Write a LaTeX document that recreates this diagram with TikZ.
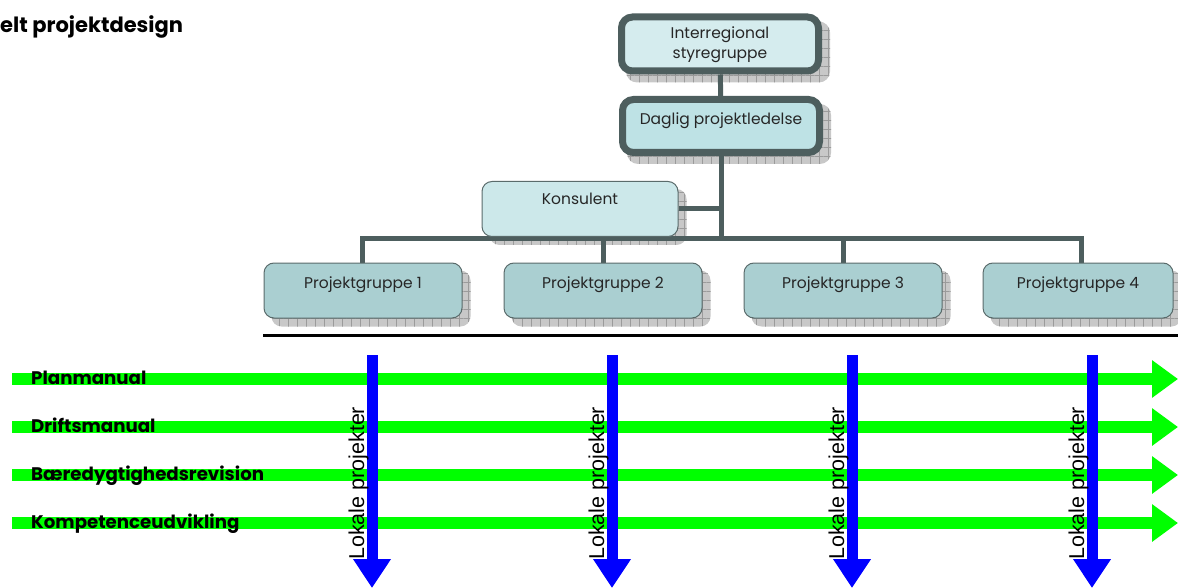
\documentclass[tikz,border=0pt]{standalone}
\usepackage{fontspec}
\newfontfamily\gothic{Poppins}
\newfontfamily\arialf{Liberation Sans}
\usetikzlibrary{arrows.meta,patterns.meta}
\pgfdeclarelayer{shadowlayer}
\pgfdeclarelayer{linelayer}
\pgfsetlayers{shadowlayer,linelayer,main}
\definecolor{linegray}{RGB}{77,94,94}
\definecolor{thingray}{RGB}{90,107,107}
\definecolor{topfill}{RGB}{213,236,238}
\definecolor{dpfill}{RGB}{190,226,229}
\definecolor{ksfill}{RGB}{204,232,234}
\definecolor{pgfill}{RGB}{170,207,209}
\definecolor{shadowfill}{RGB}{200,200,200}
\definecolor{shadowgrid}{RGB}{155,155,155}
\definecolor{arrowgreen}{RGB}{0,255,0}
\definecolor{arrowblue}{RGB}{0,0,255}
\tikzset{
  thickbox/.style={draw=linegray,line width=7pt,rounded corners=11pt,minimum width=197pt,minimum height=54pt,inner sep=0pt},
  thinbox/.style={draw=thingray,line width=1pt,rounded corners=10pt,minimum height=55pt,inner sep=0pt},
  boxtext/.style={font=\gothic\fontsize{15.5}{20}\selectfont,inner sep=0pt,anchor=base,align=center,text=black!85},
  conn/.style={draw=linegray,line width=5pt},
  greenarrow/.style={draw=arrowgreen,line width=12pt,-{Triangle[width=36pt,length=26pt]}},
  bluearrow/.style={draw=arrowblue,line width=11pt,-{Triangle[width=36pt,length=29pt]}},
  lanelabel/.style={font=\gothic\bfseries\fontsize{18.2}{20}\selectfont,inner sep=0pt,anchor=base west},
  lokale/.style={font=\arialf\fontsize{21.5}{24}\selectfont,inner sep=0pt,anchor=base west,rotate=90},
  shadowbase/.style={fill=shadowfill},
  shadowpat/.style={pattern={Hatch[angle=0,distance=9pt,line width=0.5pt]},pattern color=shadowgrid}
}
\begin{document}
\begin{tikzpicture}[x=1pt,y=-1pt]
\useasboundingbox (0,0) rectangle (1178,588);

% title
\node[font=\gothic\bfseries\fontsize{21}{24}\selectfont,inner sep=0pt,anchor=base west] (title) at (0,33) {elt projektdesign};

% boxes
\node[thickbox,fill=topfill] (ir) at (720,44) {};
\node[thickbox,fill=dpfill,minimum height=53pt] (dp) at (721,126) {};
\node[thinbox,fill=ksfill,minimum width=196pt] (ks) at (580,209) {};
\node[thinbox,fill=pgfill,minimum width=198pt] (pg1) at (363,290.5) {};
\node[thinbox,fill=pgfill,minimum width=198pt] (pg2) at (603,290.5) {};
\node[thinbox,fill=pgfill,minimum width=198pt] (pg3) at (843,290.5) {};
\node[thinbox,fill=pgfill,minimum width=190pt] (pg4) at (1078,290.5) {};

\node[boxtext] (irt) at (720,59) {Interregional\\styregruppe};
\node[boxtext] (dpt) at (721,125) {Daglig projektledelse};
\node[boxtext] (kst) at (580,205) {Konsulent};
\node[boxtext] (pg1t) at (363,288) {Projektgruppe 1};
\node[boxtext] (pg2t) at (603,288) {Projektgruppe 2};
\node[boxtext] (pg3t) at (843,288) {Projektgruppe 3};
\node[boxtext] (pg4t) at (1078,288) {Projektgruppe 4};

% shadows
\begin{pgfonlayer}{shadowlayer}
\foreach \n/\r in {ir/11pt,dp/11pt,ks/10pt,pg1/10pt,pg2/10pt,pg3/10pt,pg4/10pt}{
  \fill[shadowbase,rounded corners=\r] ([shift={(8,8)}]\n.south west) rectangle ([shift={(8,8)}]\n.north east);
  \path[shadowpat,rounded corners=\r] ([shift={(8,8)}]\n.south west) rectangle ([shift={(8,8)}]\n.north east);
}
\end{pgfonlayer}

% connectors
\coordinate (busL) at (362,239);
\coordinate (busM) at (721,239);
\coordinate (busR) at (1081,239);
\begin{pgfonlayer}{linelayer}
\draw[conn] (ir) -- (dp);
\draw[conn] (dp.south) -- (busM);
\draw[conn] (ks.east) -- (ks.east -| busM);
\draw[conn] (pg1.north -| busL) -- (busL) -- (busR) -- (pg4.north -| busR);
\draw[conn] (pg2.north) -- (pg2.north |- busM);
\draw[conn] (pg3.north) -- (pg3.north |- busM);
\end{pgfonlayer}

% separator
\coordinate (sepL) at (263,335.5);
\coordinate (sepR) at (1178,335.5);
\draw[line width=3pt] (sepL) -- (sepR);

% green arrows
\foreach \i/\y in {1/379,2/427,3/475,4/523}{
  \coordinate (gs\i) at (12,\y);
  \coordinate (ge\i) at (1178,\y);
  \draw[greenarrow] (gs\i) -- (ge\i);
}
\node[lanelabel] (l1) at (31,384) {Planmanual};
\node[lanelabel] (l2) at (31,432) {Driftsmanual};
\node[lanelabel] (l3) at (31,480) {Bæredygtighedsrevision};
\node[lanelabel] (l4) at (31,528) {Kompetenceudvikling};

% blue arrows
\foreach \i/\x in {1/372,2/612,3/852,4/1092}{
  \coordinate (bs\i) at (\x,355);
  \coordinate (be\i) at (\x,588);
  \draw[bluearrow] (bs\i) -- (be\i);
  \node[lokale] (lp\i) at (\x-8,560) {Lokale projekter};
}
\end{tikzpicture}
\end{document}
